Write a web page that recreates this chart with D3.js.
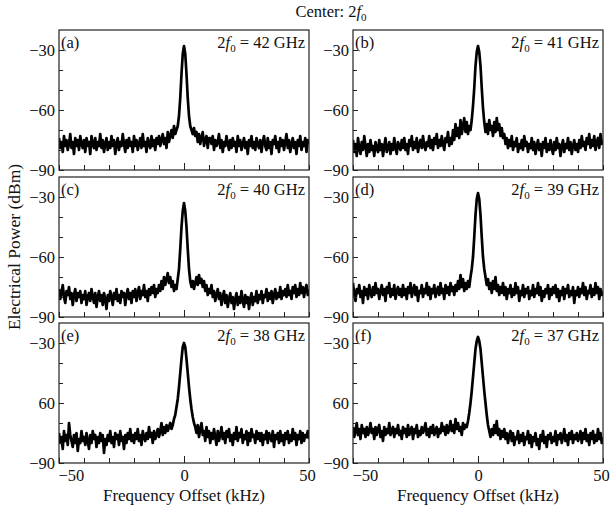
<!DOCTYPE html>
<html>
<head>
<meta charset="utf-8">
<script src="https://cdn.jsdelivr.net/npm/d3@7"></script>
<style>
  html, body { margin: 0; padding: 0; background: #fff; }
  svg { display: block; font-family: "Liberation Serif", "Times New Roman", serif; }
</style>
</head>
<body>
<svg id="chart" width="610" height="508"></svg>
<script>
// Frequency offset sampling grid (kHz), 0.5 kHz steps
const freq = [
  -50,-49.5,-49,-48.5,-48,-47.5,-47,-46.5,-46,-45.5,-45,-44.5,-44,-43.5,-43,-42.5,-42,-41.5,-41,-40.5,
  -40,-39.5,-39,-38.5,-38,-37.5,-37,-36.5,-36,-35.5,-35,-34.5,-34,-33.5,-33,-32.5,-32,-31.5,-31,-30.5,
  -30,-29.5,-29,-28.5,-28,-27.5,-27,-26.5,-26,-25.5,-25,-24.5,-24,-23.5,-23,-22.5,-22,-21.5,-21,-20.5,
  -20,-19.5,-19,-18.5,-18,-17.5,-17,-16.5,-16,-15.5,-15,-14.5,-14,-13.5,-13,-12.5,-12,-11.5,-11,-10.5,
  -10,-9.5,-9,-8.5,-8,-7.5,-7,-6.5,-6,-5.5,-5,-4.5,-4,-3.5,-3,-2.5,-2,-1.5,-1,-0.5,
  0,
  0.5,1,1.5,2,2.5,3,3.5,4,4.5,5,5.5,6,6.5,7,7.5,8,8.5,9,9.5,10,
  10.5,11,11.5,12,12.5,13,13.5,14,14.5,15,15.5,16,16.5,17,17.5,18,18.5,19,19.5,20,
  20.5,21,21.5,22,22.5,23,23.5,24,24.5,25,25.5,26,26.5,27,27.5,28,28.5,29,29.5,30,
  30.5,31,31.5,32,32.5,33,33.5,34,34.5,35,35.5,36,36.5,37,37.5,38,38.5,39,39.5,40,
  40.5,41,41.5,42,42.5,43,43.5,44,44.5,45,45.5,46,46.5,47,47.5,48,48.5,49,49.5,50];

// Electrical power (dBm) per panel
const specA = [
  -74,-79,-76,-81,-73,-78,-75,-80,-77,-72,-79,-76,-82,-74,-78,-75,-80,-73,-77,-79,
  -75,-81,-74,-78,-76,-82,-73,-77,-79,-74,-80,-76,-78,-72,-79,-75,-81,-77,-74,-80,
  -76,-79,-73,-78,-75,-82,-77,-74,-80,-76,-78,-72,-77,-81,-75,-79,-74,-78,-76,-81,
  -73,-78,-75,-80,-77,-74,-79,-72,-78,-76,-81,-74,-77,-79,-73,-78,-75,-80,-74,-77,
  -73,-78,-75,-72,-77,-74,-79,-71,-76,-73,-70,-74,-68,-72,-70,-68,-63,-54,-42,-32,
  -28,
  -32,-42,-54,-63,-68,-70,-72,-69,-73,-71,-76,-72,-77,-74,-71,-78,-75,-73,-79,-74,
  -74,-77,-73,-80,-75,-78,-76,-72,-79,-75,-81,-76,-78,-73,-77,-80,-75,-79,-74,-78,
  -76,-81,-73,-78,-75,-80,-77,-74,-79,-76,-82,-75,-78,-73,-79,-76,-80,-74,-77,-79,
  -75,-81,-76,-73,-78,-80,-74,-79,-76,-82,-75,-77,-73,-79,-76,-81,-74,-78,-75,-80,
  -76,-72,-79,-75,-81,-77,-74,-79,-76,-82,-75,-78,-73,-80,-76,-78,-74,-81,-75,-77];
const specB = [
  -75,-81,-77,-83,-74,-79,-82,-76,-80,-73,-78,-83,-77,-81,-75,-80,-78,-83,-76,-79,
  -81,-75,-80,-77,-83,-78,-74,-81,-79,-76,-82,-77,-80,-74,-79,-82,-76,-78,-80,-75,
  -79,-74,-80,-77,-82,-75,-78,-73,-80,-76,-79,-74,-81,-77,-75,-79,-73,-78,-80,-76,
  -78,-73,-79,-75,-80,-74,-77,-72,-79,-75,-78,-73,-77,-80,-74,-76,-71,-78,-74,-77,
  -70,-75,-67,-73,-69,-74,-65,-72,-68,-64,-71,-66,-72,-68,-70,-65,-58,-49,-38,-31,
  -28,
  -31,-38,-49,-59,-66,-71,-67,-72,-65,-70,-68,-73,-66,-71,-64,-70,-67,-73,-69,-74,
  -72,-77,-74,-79,-75,-78,-73,-80,-76,-78,-74,-81,-77,-79,-75,-80,-73,-78,-76,-81,
  -77,-79,-74,-80,-76,-82,-78,-75,-80,-77,-83,-76,-79,-74,-81,-77,-80,-75,-79,-82,
  -76,-80,-74,-79,-77,-83,-78,-75,-81,-77,-79,-74,-80,-76,-82,-78,-75,-80,-77,-81,
  -75,-79,-73,-78,-76,-80,-74,-77,-72,-79,-75,-78,-73,-80,-76,-74,-79,-72,-77,-75];
const specC = [
  -76,-81,-78,-74,-80,-83,-77,-79,-75,-81,-78,-84,-79,-76,-82,-78,-80,-77,-83,-79,
  -81,-77,-84,-80,-78,-82,-76,-80,-83,-78,-85,-80,-77,-82,-79,-84,-78,-81,-86,-79,
  -82,-77,-80,-84,-78,-81,-76,-82,-79,-83,-77,-80,-78,-84,-79,-76,-81,-78,-83,-77,
  -80,-76,-82,-78,-75,-81,-77,-79,-74,-80,-77,-82,-76,-79,-75,-78,-74,-80,-76,-78,
  -74,-77,-72,-76,-70,-74,-71,-68,-73,-70,-75,-72,-77,-74,-76,-71,-66,-56,-45,-37,
  -33,
  -37,-45,-56,-66,-72,-75,-72,-76,-73,-70,-74,-69,-73,-71,-75,-72,-77,-74,-79,-76,
  -78,-74,-80,-77,-82,-79,-76,-81,-78,-84,-80,-77,-83,-79,-85,-81,-78,-83,-80,-86,
  -81,-78,-84,-80,-83,-77,-82,-85,-79,-83,-80,-86,-81,-78,-84,-80,-82,-77,-83,-79,
  -81,-77,-83,-79,-80,-76,-82,-78,-81,-77,-83,-79,-76,-81,-78,-80,-75,-81,-77,-79,
  -76,-80,-74,-79,-77,-81,-75,-78,-74,-80,-76,-79,-73,-78,-75,-80,-76,-74,-79,-76];
const specD = [
  -73,-79,-82,-76,-78,-74,-80,-77,-83,-75,-79,-76,-81,-74,-78,-80,-75,-79,-73,-78,
  -76,-81,-77,-74,-79,-76,-82,-75,-78,-73,-80,-76,-79,-74,-81,-77,-75,-79,-76,-80,
  -74,-79,-76,-81,-75,-78,-73,-80,-77,-74,-79,-75,-82,-77,-78,-74,-80,-76,-78,-73,
  -79,-75,-81,-76,-78,-74,-80,-77,-75,-79,-73,-78,-76,-81,-74,-78,-75,-79,-73,-77,
  -75,-79,-74,-77,-72,-76,-69,-75,-71,-77,-73,-76,-72,-75,-70,-66,-60,-50,-39,-31,
  -28,
  -31,-39,-50,-60,-66,-70,-74,-71,-76,-73,-78,-72,-76,-70,-77,-74,-79,-75,-78,-73,
  -79,-75,-81,-76,-78,-74,-80,-76,-79,-73,-78,-75,-82,-77,-79,-74,-80,-76,-78,-75,
  -81,-77,-79,-74,-80,-76,-78,-73,-79,-75,-82,-77,-80,-76,-78,-74,-81,-76,-79,-75,
  -78,-74,-80,-76,-82,-77,-79,-75,-81,-76,-78,-74,-80,-77,-79,-75,-83,-77,-79,-75,
  -80,-76,-78,-73,-79,-75,-81,-77,-78,-74,-80,-76,-79,-73,-78,-75,-81,-76,-79,-77];
const specE = [
  -75,-80,-77,-83,-74,-79,-76,-81,-70,-76,-79,-82,-76,-80,-75,-84,-78,-80,-74,-79,
  -77,-81,-75,-79,-83,-76,-80,-74,-78,-76,-82,-77,-80,-75,-79,-76,-85,-78,-81,-76,
  -79,-74,-80,-77,-82,-75,-78,-76,-81,-74,-79,-77,-83,-76,-80,-75,-78,-73,-79,-76,
  -80,-75,-78,-73,-79,-76,-81,-74,-77,-79,-75,-78,-72,-77,-75,-80,-74,-78,-76,-73,
  -77,-74,-70,-76,-72,-75,-71,-74,-72,-70,-73,-71,-68,-66,-62,-58,-52,-45,-38,-32,
  -30,
  -32,-38,-45,-52,-58,-63,-67,-70,-72,-75,-71,-77,-73,-70,-76,-74,-79,-72,-77,-74,
  -80,-75,-78,-73,-77,-81,-74,-79,-76,-72,-78,-75,-80,-74,-77,-73,-79,-76,-81,-75,
  -78,-72,-79,-75,-77,-73,-80,-76,-78,-74,-81,-75,-79,-73,-77,-76,-80,-74,-78,-75,
  -79,-75,-81,-76,-78,-74,-80,-75,-77,-79,-74,-82,-76,-78,-75,-80,-74,-79,-76,-81,
  -75,-78,-74,-80,-76,-79,-73,-78,-75,-81,-76,-78,-74,-80,-75,-79,-76,-77,-74,-78];
const specF = [
  -72,-77,-74,-70,-76,-73,-78,-71,-75,-73,-77,-72,-76,-74,-70,-75,-73,-78,-72,-76,
  -73,-71,-77,-74,-79,-72,-76,-73,-75,-70,-76,-74,-72,-77,-73,-75,-71,-76,-74,-78,
  -72,-75,-73,-77,-71,-76,-74,-72,-78,-73,-75,-71,-77,-74,-76,-72,-75,-73,-70,-76,
  -73,-77,-72,-75,-71,-76,-74,-72,-77,-73,-75,-70,-74,-72,-76,-71,-75,-73,-69,-74,
  -71,-75,-68,-73,-70,-74,-72,-76,-70,-73,-71,-72,-69,-65,-60,-54,-47,-40,-33,-29,
  -27,
  -29,-33,-40,-47,-54,-60,-66,-71,-74,-77,-73,-76,-71,-75,-69,-76,-73,-78,-74,-77,
  -73,-78,-75,-80,-76,-74,-79,-75,-81,-77,-78,-74,-80,-76,-79,-75,-81,-77,-78,-74,
  -80,-76,-82,-77,-79,-75,-81,-78,-83,-76,-79,-74,-80,-77,-82,-76,-78,-75,-80,-77,
  -79,-74,-81,-76,-78,-75,-80,-77,-73,-79,-76,-81,-75,-78,-74,-80,-76,-78,-75,-79,
  -77,-74,-80,-75,-78,-73,-79,-76,-81,-75,-78,-74,-80,-76,-79,-73,-78,-75,-80,-77];

const spectra = [specA, specB, specC, specD, specE, specF];
const panelLetters = ["(a)", "(b)", "(c)", "(d)", "(e)", "(f)"];
const panelGHz = [42, 41, 40, 39, 38, 37];
const xTicks = [-50, -40, -30, -20, -10, 0, 10, 20, 30, 40, 50];
const xTickLabels = {"-50": "\u221250", "0": "0", "50": "50"};
const yTicks = [-90, -80, -70, -60, -50, -40, -30];
const yTickLabelsTop = {"-30": "\u221230", "-60": "\u221260", "-90": "\u221290"};
const yTickLabelsBottom = {"-30": "\u221230", "-60": "60", "-90": "\u221290"};

const svg = d3.select("#chart");
const colX = [[59, 309], [353, 603]];
const rowY = [30, 177, 323];
const panelH = 140;

// Title
const title = svg.append("text").attr("x", 331).attr("y", 17)
  .attr("text-anchor", "middle").attr("font-size", 16.5).attr("fill", "#111");
title.append("tspan").text("Center: 2");
title.append("tspan").attr("font-style", "italic").text("f");
title.append("tspan").attr("font-size", 11).attr("dy", 4).text("0");

// Y title
svg.append("text").attr("transform", "translate(20,247) rotate(-90)")
  .attr("text-anchor", "middle").attr("font-size", 17.5).attr("fill", "#111")
  .text("Electrical Power (dBm)");

spectra.forEach((spec, i) => {
  const col = i % 2, row = Math.floor(i / 2);
  const [x0, x1] = colX[col];
  const y0 = rowY[row];
  const x = d3.scaleLinear().domain([-50, 50]).range([x0, x1]);
  const y = d3.scaleLinear().domain([-90, -20]).range([y0 + panelH, y0]);
  const g = svg.append("g");
  const clipId = "clip" + i;
  svg.append("clipPath").attr("id", clipId).append("rect")
    .attr("x", x0).attr("y", y0).attr("width", x1 - x0).attr("height", panelH);

  const data = freq.map((f, k) => [f, spec[k]]);
  g.append("path").datum(data)
    .attr("clip-path", `url(#${clipId})`)
    .attr("fill", "none").attr("stroke", "#000").attr("stroke-width", 2.7)
    .attr("stroke-linejoin", "round")
    .attr("d", d3.line().x(d => x(d[0])).y(d => y(d[1])));

  // X axis (bottom ticks inward)
  const isBottom = row === 2;
  const xa = g.append("g").attr("transform", `translate(0,${y0 + panelH})`)
    .call(d3.axisBottom(x).tickValues(xTicks).tickSize(-5).tickPadding(6)
      .tickFormat(d => isBottom ? (xTickLabels[String(d)] || "") : ""));
  xa.select(".domain").remove();
  xa.selectAll(".tick line").attr("stroke", "#222").attr("stroke-width", 1)
    .attr("y2", d => d === 0 ? -7 : -5);
  xa.selectAll(".tick text").attr("font-size", 16.5).attr("fill", "#111")
    .attr("font-family", "Liberation Serif, Times New Roman, serif")
    .attr("text-anchor", d => d === -50 ? "start" : "middle")
    .attr("dx", d => d === -50 ? -1 : (d === 50 ? -2 : 0));

  // Y axis (left ticks inward)
  const labels = row === 2 ? yTickLabelsBottom : yTickLabelsTop;
  const ya = g.append("g").attr("transform", `translate(${x0},0)`)
    .call(d3.axisLeft(y).tickValues(yTicks).tickSize(-5).tickPadding(4)
      .tickFormat(d => labels[String(d)] || ""));
  ya.select(".domain").remove();
  ya.selectAll(".tick line").attr("stroke", "#222").attr("stroke-width", 1)
    .attr("x2", d => (d % 30 === 0) ? 5 : 4);
  ya.selectAll(".tick text").attr("font-size", 16.5).attr("fill", "#111")
    .attr("font-family", "Liberation Serif, Times New Roman, serif");

  // Frame
  g.append("rect").attr("x", x0).attr("y", y0).attr("width", x1 - x0).attr("height", panelH)
    .attr("fill", "none").attr("stroke", "#222").attr("stroke-width", 1.2);

  // Panel letter
  g.append("text").attr("x", x0 + 2).attr("y", y0 + 18)
    .attr("font-size", 16.5).attr("fill", "#111").text(panelLetters[i]);

  // Frequency annotation
  const ann = g.append("text").attr("x", x1 - 4).attr("y", y0 + 18)
    .attr("text-anchor", "end").attr("font-size", 16.5).attr("fill", "#111");
  ann.append("tspan").text("2");
  ann.append("tspan").attr("font-style", "italic").text("f");
  ann.append("tspan").attr("font-size", 11).attr("dy", 4).text("0");
  ann.append("tspan").attr("dy", -4).text(` = ${panelGHz[i]} GHz`);

  // X title under bottom row
  if (isBottom) {
    svg.append("text").attr("x", (x0 + x1) / 2).attr("y", 501)
      .attr("text-anchor", "middle").attr("font-size", 17).attr("fill", "#111")
      .text("Frequency Offset (kHz)");
  }
});
</script>
</body>
</html>
